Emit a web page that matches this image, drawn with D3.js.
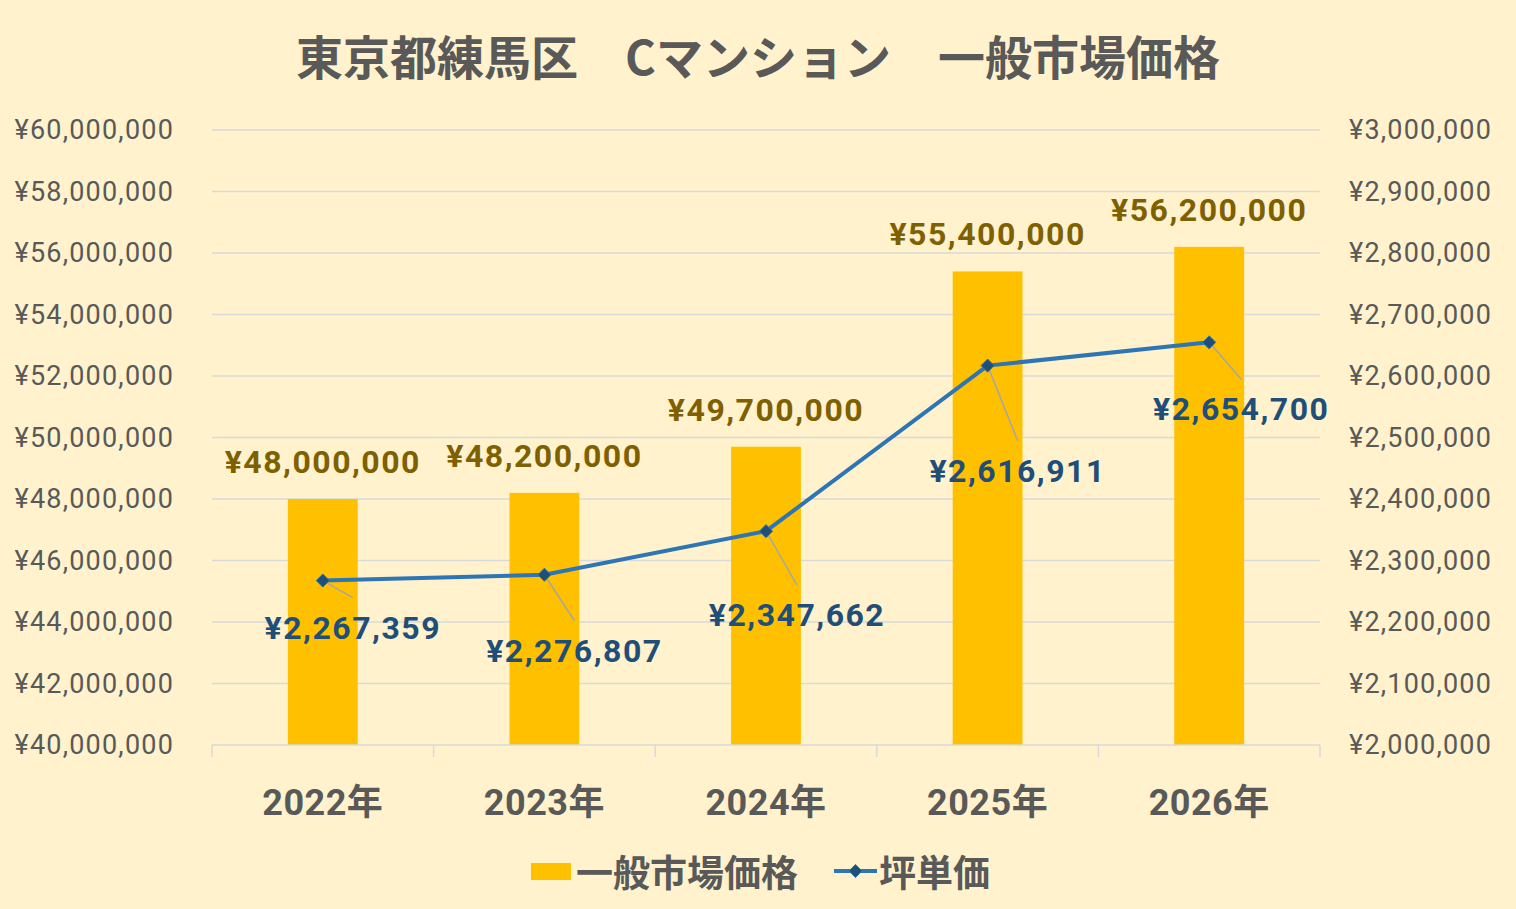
<!DOCTYPE html>
<html lang="ja">
<head>
<meta charset="UTF-8">
<title>東京都練馬区 Cマンション 一般市場価格</title>
<script src="https://d3js.org/d3.v7.min.js"></script>
<style>
  body { margin: 0; background: #fff2cc; }
  svg { display: block; font-family: Roboto, "Noto Sans CJK JP", sans-serif; }
  .grid line { stroke: #d9d9d9; stroke-width: 1.5px; }
  .tick-label { fill: #595959; font-size: 27px; letter-spacing: 1.2px; }
  .year { fill: #595959; font-size: 36px; font-weight: bold; letter-spacing: 0.5px; }
  .val { font-size: 32px; font-weight: bold; letter-spacing: 1.5px; }
  .jp { font-family: "Noto Sans CJK JP", sans-serif; fill: #595959; font-weight: bold; }
</style>
</head>
<body>
<svg width="1516" height="909"></svg>
<script>
const years = ["2022年", "2023年", "2024年", "2025年", "2026年"];
const marketPrice = [48000000, 48200000, 49700000, 55400000, 56200000];
const tsuboPrice = [2267359, 2276807, 2347662, 2616911, 2654700];
const leftTicks = [40000000, 42000000, 44000000, 46000000, 48000000, 50000000, 52000000, 54000000, 56000000, 58000000, 60000000];
const rightTicks = [2000000, 2100000, 2200000, 2300000, 2400000, 2500000, 2600000, 2700000, 2800000, 2900000, 3000000];
// label offset from the line point (text centre x, baseline y)
const lineLabelOffsets = [[30, 47], [30, 76], [31, 84], [30, 105], [32, 67]];

const m = { left: 212, right: 1320, top: 130, bottom: 745 };

const svg = d3.select("svg");
const yen = d => "¥" + d3.format(",")(d);

const x = d3.scaleBand().domain(years).range([m.left, m.right]).paddingInner(0.685).paddingOuter(0.3425);
const band = d3.scaleBand().domain(years).range([m.left, m.right]);
const yL = d3.scaleLinear().domain([40000000, 60000000]).range([m.bottom, m.top]);
const yR = d3.scaleLinear().domain([2000000, 3000000]).range([m.bottom, m.top]);

// タイトル
svg.append("text")
  .attr("class", "jp")
  .attr("x", 758).attr("y", 75)
  .attr("text-anchor", "middle")
  .style("font-size", "47px")
  .text("東京都練馬区\u3000Cマンション\u3000一般市場価格");

// グリッド
svg.append("g").attr("class", "grid")
  .selectAll("line").data(leftTicks.slice(1)).enter().append("line")
  .attr("x1", m.left).attr("x2", m.right)
  .attr("y1", d => yL(d)).attr("y2", d => yL(d));

// 左軸
svg.append("g").selectAll("text").data(leftTicks).enter().append("text")
  .attr("class", "tick-label")
  .attr("x", 174).attr("y", d => yL(d) + 9)
  .attr("text-anchor", "end")
  .text(yen);

// 右軸
svg.append("g").selectAll("text").data(rightTicks).enter().append("text")
  .attr("class", "tick-label")
  .attr("x", 1349).attr("y", d => yR(d) + 9)
  .attr("text-anchor", "start")
  .text(yen);

// 棒
svg.append("g").selectAll("rect").data(marketPrice).enter().append("rect")
  .attr("x", (d, i) => x(years[i]))
  .attr("width", x.bandwidth())
  .attr("y", d => yL(d))
  .attr("height", d => m.bottom - yL(d))
  .attr("fill", "#ffc000");

// 横軸
const xAxis = svg.append("g");
xAxis.append("line")
  .attr("x1", m.left).attr("x2", m.right)
  .attr("y1", m.bottom).attr("y2", m.bottom)
  .attr("stroke", "#d9d9d9").attr("stroke-width", 1.5);
xAxis.selectAll(".tk").data(years.concat(["end"])).enter().append("line")
  .attr("x1", (d, i) => i < years.length ? band(d) : m.right)
  .attr("x2", (d, i) => i < years.length ? band(d) : m.right)
  .attr("y1", m.bottom).attr("y2", m.bottom + 12)
  .attr("stroke", "#d9d9d9").attr("stroke-width", 1.5);
xAxis.selectAll(".year").data(years).enter().append("text")
  .attr("class", "year")
  .attr("x", d => band(d) + band.bandwidth() / 2)
  .attr("y", 815)
  .attr("text-anchor", "middle")
  .text(d => d);

// 棒ラベル
svg.append("g").selectAll("text").data(marketPrice).enter().append("text")
  .attr("class", "val")
  .attr("x", (d, i) => x(years[i]) + x.bandwidth() / 2)
  .attr("y", d => yL(d) - 26)
  .attr("text-anchor", "middle")
  .attr("fill", "#7f6000")
  .text(yen);

// 折れ線
const cx = (d, i) => band(years[i]) + band.bandwidth() / 2;
const line = d3.line().x((d, i) => cx(d, i)).y(d => yR(d));

// 引き出し線
svg.append("g").selectAll("line").data(tsuboPrice).enter().append("line")
  .attr("x1", (d, i) => cx(d, i)).attr("y1", d => yR(d))
  .attr("x2", (d, i) => cx(d, i) + lineLabelOffsets[i][0])
  .attr("y2", (d, i) => yR(d) + lineLabelOffsets[i][1] - 30)
  .attr("stroke", "#a6a6a6").attr("stroke-width", 1.5);

svg.append("path").datum(tsuboPrice)
  .attr("d", line)
  .attr("fill", "none")
  .attr("stroke", "#2e75b6")
  .attr("stroke-width", 4);

const diamond = d3.symbol().type(d3.symbolDiamond2).size(110);
svg.append("g").selectAll("path").data(tsuboPrice).enter().append("path")
  .attr("d", diamond)
  .attr("transform", (d, i) => `translate(${cx(d, i)},${yR(d)})`)
  .attr("fill", "#1f4e79")
  .attr("stroke", "#2e75b6").attr("stroke-width", 1);

svg.append("g").selectAll("text").data(tsuboPrice).enter().append("text")
  .attr("class", "val")
  .attr("x", (d, i) => cx(d, i) + lineLabelOffsets[i][0])
  .attr("y", (d, i) => yR(d) + lineLabelOffsets[i][1] + 11)
  .attr("text-anchor", "middle")
  .attr("fill", "#1f4e79")
  .text(yen);

// 凡例
const lg = svg.append("g");
lg.append("rect").attr("x", 531).attr("y", 863).attr("width", 40).attr("height", 17).attr("fill", "#ffc000");
lg.append("text").attr("class", "jp").attr("x", 576).attr("y", 887)
  .style("font-size", "37px")
  .text("一般市場価格");
lg.append("line").attr("x1", 834).attr("x2", 877).attr("y1", 871).attr("y2", 871)
  .attr("stroke", "#2e75b6").attr("stroke-width", 4);
lg.append("path").attr("d", diamond).attr("transform", "translate(855.5,871)")
  .attr("fill", "#1f4e79").attr("stroke", "#2e75b6").attr("stroke-width", 1);
lg.append("text").attr("class", "jp").attr("x", 879).attr("y", 887)
  .style("font-size", "37px")
  .text("坪単価");
</script>
</body>
</html>
